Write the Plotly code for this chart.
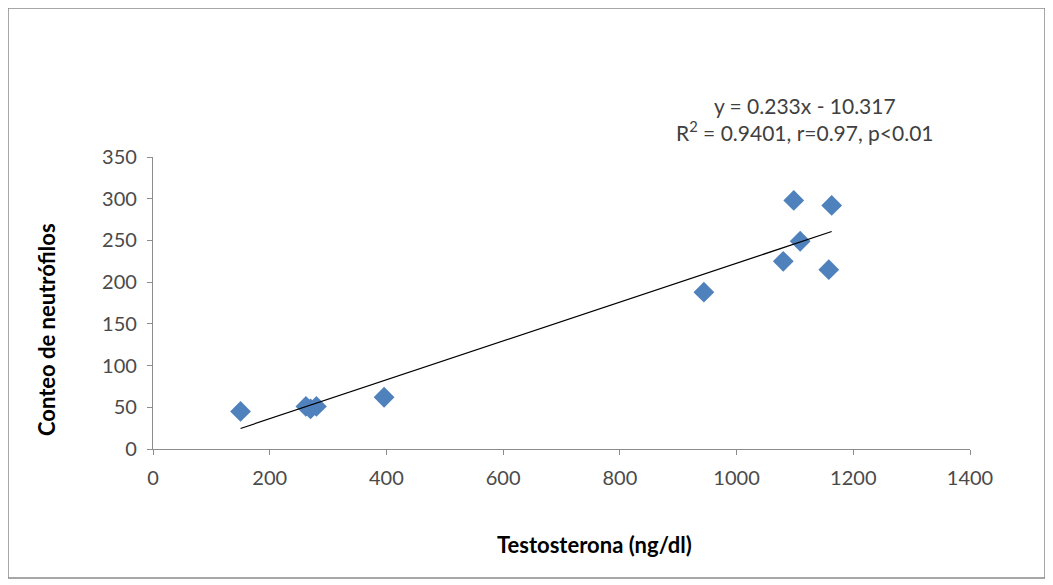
import plotly.graph_objects as go

testosterona = [150, 262, 270, 280, 396, 944, 1080, 1098, 1109, 1158, 1163]
neutrofilos = [45, 51, 48, 51, 62, 188, 225, 298, 249, 215, 292]
slope = 0.233
intercept = -10.317
x_ticks = [0, 200, 400, 600, 800, 1000, 1200, 1400]
y_ticks = [0, 50, 100, 150, 200, 250, 300, 350]

xmin, xmax = min(testosterona), max(testosterona)
trend_x = [xmin, xmax]
trend_y = [slope * v + intercept for v in trend_x]

font = "Lato, 'Open Sans', sans-serif"
axis_color = "#8c8c8c"
OFF = 8  # page body offset

fig = go.Figure()
fig.add_trace(go.Scatter(x=testosterona, y=neutrofilos, mode="markers",
                         marker=dict(symbol="diamond", size=16, color="#4F81BD",
                                     line=dict(width=0)),
                         showlegend=False))
fig.add_trace(go.Scatter(x=trend_x, y=trend_y, mode="lines",
                         line=dict(color="black", width=1.2), showlegend=False))

fig.update_layout(
    width=1053 - OFF, height=585 - OFF,
    margin=dict(l=153 - OFF, r=83, t=157 - OFF, b=136),
    paper_bgcolor="white", plot_bgcolor="white",
    font=dict(family=font, size=20, color="#4a4a4a"),
    xaxis=dict(range=[0, 1400], tickvals=x_ticks, showgrid=False, zeroline=False,
               showline=True, linecolor=axis_color, linewidth=1.3,
               ticks="outside", ticklen=5, tickcolor=axis_color,
               tickfont=dict(size=20, color="#4a4a4a"), ticklabelstandoff=6),
    yaxis=dict(range=[0, 350], tickvals=y_ticks, showgrid=False, zeroline=False,
               showline=True, linecolor=axis_color, linewidth=1.3,
               ticks="outside", ticklen=5, tickcolor=axis_color,
               tickfont=dict(size=20, color="#4a4a4a"), ticklabelstandoff=6),
    shapes=[dict(type="rect", xref="paper", yref="paper",
                 x0=(8 - 153) / 817, x1=(1045 - 153) / 817,
                 y0=(449 - 578) / 292, y1=(449 - 8) / 292,
                 line=dict(color="#8a8a8a", width=1.5), fillcolor="rgba(0,0,0,0)",
                 layer="below")],
    annotations=[
        dict(text="<b>Testosterona (ng/dl)</b>", xref="paper", yref="paper",
             x=(594 - 153) / 817, y=(449 - 544) / 292, showarrow=False,
             font=dict(size=22, color="black", family=font),
             xanchor="center", yanchor="middle"),
        dict(text="<b>Conteo de neutrófilos</b>", xref="paper", yref="paper",
             x=(46 - 153) / 817, y=(449 - 330) / 292, showarrow=False, textangle=-90,
             font=dict(size=22, color="black", family=font),
             xanchor="center", yanchor="middle"),
        dict(text="y = 0.233x - 10.317<br>R<sup>2</sup> = 0.9401, r=0.97, p<0.01",
             xref="paper", yref="paper",
             x=(805 - 153) / 817, y=(449 - 119) / 292, showarrow=False,
             font=dict(size=21, color="#404040", family=font),
             xanchor="center", yanchor="middle", align="center"),
    ],
)

fig.write_html("out.html")
